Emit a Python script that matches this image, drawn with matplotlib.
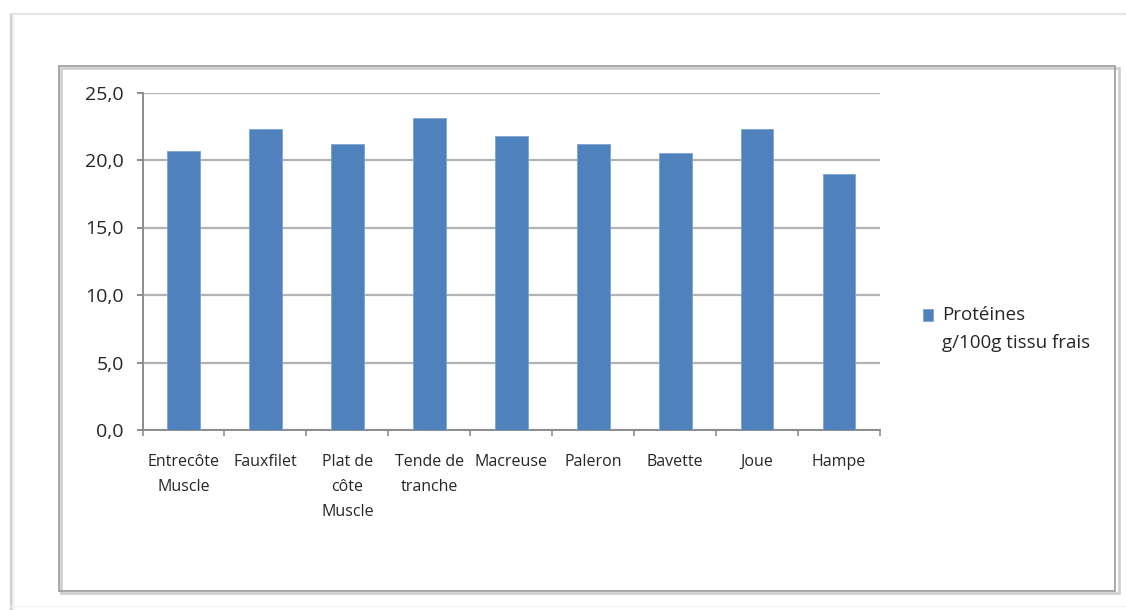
import matplotlib
matplotlib.use("Agg")
import matplotlib.pyplot as plt
from matplotlib.patches import Rectangle
from matplotlib.lines import Line2D
from matplotlib.ticker import FuncFormatter, FixedLocator

# Protein content of beef cuts (g per 100 g of fresh tissue)
categories = ["Entrecôte\nMuscle", "Fauxfilet", "Plat de\ncôte\nMuscle", "Tende de\ntranche",
              "Macreuse", "Paleron", "Bavette", "Joue", "Hampe"]
proteines = [20.7, 22.3, 21.2, 23.1, 21.8, 21.2, 20.5, 22.3, 19.0]
series_label = "Protéines\ng/100g tissu frais"
y_ticks = [0, 5, 10, 15, 20, 25]

BAR = "#4f81bd"
GRID = "#b3b3b3"
AXIS = "#8c8c8c"
TEXT = "#262626"
FONT = ["Open Sans", "DejaVu Sans"]

W, H = 1126, 610
fig = plt.figure(figsize=(W / 100, H / 100), dpi=100)
fig.patch.set_facecolor("white")


def fx(px):
    return px / W


def fy(py):
    return 1 - py / H


# page frame: shadowed left edge and faint top rule
for i, c in enumerate(["#d9d9d9", "#c4c4c4", "#e6e6e6", "#f2f2f2"]):
    fig.add_artist(Line2D([fx(10 + i), fx(10 + i)], [fy(14), fy(610)], transform=fig.transFigure,
                          color=c, lw=1.0))
fig.add_artist(Line2D([fx(10), fx(1126)], [fy(13.5), fy(13.5)], transform=fig.transFigure,
                      color="#e4e4e4", lw=1.5))
fig.add_artist(Line2D([fx(10), fx(1126)], [fy(606), fy(606)], transform=fig.transFigure,
                      color="#f0f0f0", lw=1.0))

# chart area border with a soft shadow
fig.add_artist(Rectangle((fx(61), fy(593)), fx(1117 - 59), fy(66) - fy(591),
                         transform=fig.transFigure, fill=False, ec="#d0d0d0", lw=2.0))
fig.add_artist(Rectangle((fx(59), fy(591)), fx(1115 - 59), fy(66) - fy(591),
                         transform=fig.transFigure, fill=False, ec="#9a9a9a", lw=1.2))

# plot area
ax = fig.add_axes([fx(142.5), fy(430), fx(880 - 142.5), fy(92.5) - fy(430)])
x = list(range(len(categories)))
bars = ax.bar(x, proteines, width=0.40, color=BAR, edgecolor="#7ea3d2", linewidth=0.6,
              label=series_label, zorder=3)

ax.set_xlim(-0.5, len(categories) - 0.5)
ax.set_ylim(0, 25)

for side in ["top", "right"]:
    ax.spines[side].set_visible(False)
for side in ["left", "bottom"]:
    ax.spines[side].set_color(AXIS)
    ax.spines[side].set_linewidth(1.4)

ax.yaxis.set_major_locator(FixedLocator(y_ticks))
ax.yaxis.set_major_formatter(FuncFormatter(lambda v, p: f"{v:.1f}".replace(".", ",")))
ax.yaxis.grid(True, color=GRID, lw=1.6, zorder=0)
ax.set_axisbelow(True)
ax.tick_params(axis="y", length=4.5, width=1.4, color=AXIS, pad=9, labelsize=14,
               labelcolor=TEXT)

ax.set_xticks(x)
ax.set_xticklabels(categories, linespacing=1.75, ma="center")
ax.xaxis.set_minor_locator(FixedLocator([i - 0.5 for i in range(len(categories) + 1)]))
ax.tick_params(axis="x", which="major", length=0, pad=17, labelsize=11.5, labelcolor=TEXT)
ax.tick_params(axis="x", which="minor", length=4, width=1.2, color=AXIS)

for lab in ax.get_xticklabels() + ax.get_yticklabels():
    lab.set_family(FONT)

LEG_SIZE = 13.5
leg = ax.legend(handles=[bars], labels=[series_label], loc="center left",
                bbox_to_anchor=(fx(906), fy(329)), bbox_transform=fig.transFigure,
                frameon=False, handlelength=0.55, handleheight=0.6, handletextpad=0.45,
                prop={"family": FONT, "size": LEG_SIZE})
for t in leg.get_texts():
    t.set_color(TEXT)
    t.set_linespacing(1.7)
# keep the swatch level with the first line of the two-line label
handle = leg.legend_handles[0]
handle.set_y(handle.get_y() + 0.75 * LEG_SIZE)

fig.savefig("out.png", dpi=100, facecolor="white")
